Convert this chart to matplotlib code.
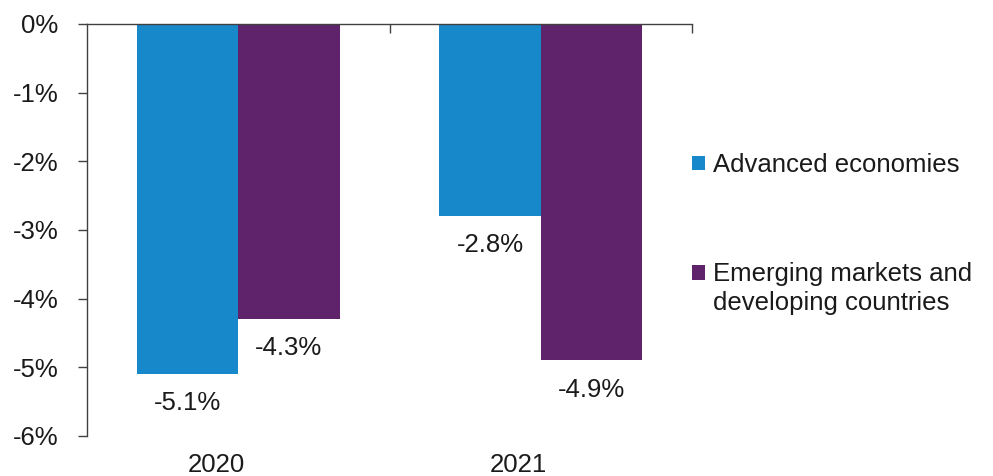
import numpy as np
import matplotlib.pyplot as plt
import matplotlib.transforms as mtransforms
from matplotlib.patches import Patch, Rectangle
from matplotlib.legend_handler import HandlerPatch

plt.rcParams['font.family'] = ['Liberation Sans', 'DejaVu Sans']

years = ['2020', '2021']
advanced = [-5.1, -2.8]
emerging = [-4.3, -4.9]
series_names = ['Advanced economies', 'Emerging markets and\ndeveloping countries']
colors = ['#1789CA', '#5F236B']
y_ticks = [0, -1, -2, -3, -4, -5, -6]

FS = 18.5
TXT = '#1a1a1a'
LINE = '#404040'
LINESPACING = 1.28

fig = plt.figure(figsize=(9.93, 4.76), dpi=100)
ax = fig.add_axes([87 / 993, 1 - 436 / 476, (692 - 87) / 993, (436 - 24) / 476])

x = np.arange(len(years))
w = 0.335
bars1 = ax.bar(x - w / 2, advanced, w, color=colors[0])
bars2 = ax.bar(x + w / 2, emerging, w, color=colors[1])

# value labels under the end of each bar
for bars, vals in ((bars1, advanced), (bars2, emerging)):
    for b, v in zip(bars, vals):
        ax.annotate(f'{v:.1f}%', (b.get_x() + b.get_width() / 2, v),
                    xytext=(0, -21), textcoords='offset points',
                    ha='center', va='center', fontsize=FS, color=TXT)

ax.set_xlim(-0.5, 1.5)
ax.set_ylim(-6, 0)

# zero line on top with category separators, no bottom axis
for side in ('right', 'bottom'):
    ax.spines[side].set_visible(False)
for side in ('left', 'top'):
    ax.spines[side].set_color(LINE)
    ax.spines[side].set_linewidth(1.0)

ax.set_yticks(y_ticks, [f'{t}%' for t in y_ticks])
ax.tick_params(axis='y', direction='out', length=6.5, width=1.0, color=LINE,
               pad=14, labelsize=FS, labelcolor=TXT)

ax.set_xticks([0.5, 1.5])
ax.tick_params(axis='x', which='major', top=True, bottom=False, direction='in',
               length=6.5, width=1.0, color=LINE,
               labeltop=False, labelbottom=False)

# year labels below the plot area
lab_tr = mtransforms.blended_transform_factory(ax.transData, ax.transAxes) + \
    mtransforms.ScaledTranslation(-0.22, -0.17, fig.dpi_scale_trans)
for xi, yr in zip(x, years):
    ax.text(xi, 0, yr, transform=lab_tr, ha='center', va='top',
            fontsize=FS, color=TXT)


def square_patch(n_lines):
    # keep the swatch level with the first line of a wrapped label
    dy = (n_lines - 1) * FS * LINESPACING / 2

    def make(legend, orig_handle, xdescent, ydescent, width, height, fontsize):
        return Rectangle((-xdescent, -ydescent + dy), width, height)
    return HandlerPatch(patch_func=make)


handles = [Patch(facecolor=c, edgecolor='none') for c in colors]
handler_map = {h: square_patch(name.count('\n') + 1)
               for h, name in zip(handles, series_names)}
leg = ax.legend(handles, series_names, handler_map=handler_map, loc='upper left',
                bbox_to_anchor=(692 / 993, 1 - 153 / 476), bbox_transform=fig.transFigure,
                frameon=False, fontsize=FS, handlelength=0.5, handleheight=0.5,
                handletextpad=0.3, labelspacing=3.3, borderpad=0, borderaxespad=0,
                labelcolor=TXT)
for t in leg.get_texts():
    t.set_linespacing(LINESPACING)

fig.savefig('out.png', dpi=100)
